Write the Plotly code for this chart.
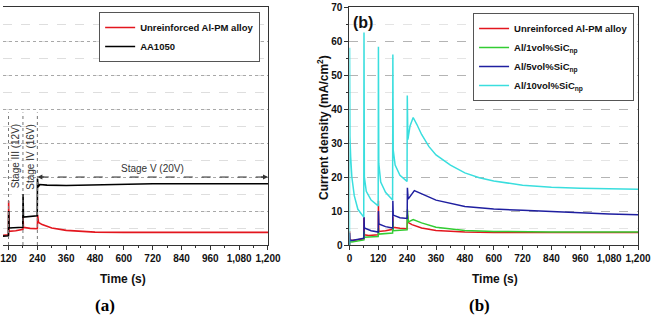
import plotly.graph_objects as go

# ---------------- data ----------------
# Unreinforced Al-PM alloy (both panels)
red_t = [0, 0.5, 2, 10, 30, 59.5, 60, 60.5, 62, 80, 119.5, 120, 120.5, 122, 150, 179.5, 180, 180.5, 182, 210,
         239.5, 240, 241, 245, 260, 300, 360, 480, 600, 840, 1200]
red_v = [0, 4.0, 1.5, 1.3, 1.5, 1.8, 1.8, 8.0, 3.0, 2.8, 3.0, 3.0, 13.0, 4.0, 4.2, 4.6, 4.6, 8.4, 5.2, 4.9,
         4.8, 4.8, 8.9, 6.6, 6.0, 5.0, 4.3, 3.8, 3.7, 3.7, 3.7]

# AA1050 (panel a)
blk_t = [0, 0.5, 2, 59.5, 60, 60.5, 62, 119.5, 120, 120.5, 122, 179.5, 180, 180.5, 182, 239.5, 240, 240.5,
         243, 250, 280, 360, 480, 600, 720, 840, 960, 1080, 1200]
blk_v = [0, 5.0, 1.2, 1.5, 1.5, 6.0, 2.5, 2.7, 2.7, 10.0, 5.0, 5.2, 5.2, 15.0, 8.2, 8.6, 8.6, 19.5,
         17.0, 17.8, 17.6, 17.5, 17.7, 17.9, 18.0, 18.0, 18.0, 18.0, 18.0]

# Al/1vol%SiCnp
grn_t = [0, 1, 10, 59.5, 60, 60.5, 62, 119.5, 120, 120.5, 122, 179.5, 180, 180.5, 182, 239.5, 240, 241,
         245, 265, 300, 360, 480, 600, 840, 1200]
grn_v = [0, 1.0, 0.9, 1.5, 1.5, 4.0, 2.3, 2.5, 2.5, 5.0, 3.2, 3.5, 3.5, 7.0, 4.2, 4.5, 4.5, 10.5,
         6.8, 7.5, 6.5, 5.2, 4.3, 4.0, 3.8, 3.8]

# Al/5vol%SiCnp
blu_t = [0, 0.5, 2, 10, 59.5, 60, 60.5, 62, 90, 119.5, 120, 120.5, 122, 150, 179.5, 180, 180.5, 182, 210,
         239.5, 240, 241, 244, 270, 300, 360, 480, 600, 720, 840, 960, 1080, 1200]
blu_v = [0, 3.5, 1.5, 1.3, 2.0, 2.0, 8.2, 5.0, 4.2, 3.8, 3.8, 10.0, 6.2, 5.4, 5.0, 5.0, 13.0, 8.8, 8.0,
         7.8, 7.8, 16.8, 13.5, 16.0, 15.0, 13.2, 11.3, 10.6, 10.2, 9.8, 9.4, 9.1, 8.9]

# Al/10vol%SiCnp
cyn_t = [0, 0.5, 2, 5, 10, 20, 35, 59.5, 60, 60.5, 62, 70, 90, 119.5, 120, 120.5, 122, 130, 150, 179.5,
         180, 180.5, 182, 190, 210, 239.5, 240, 240.5, 243, 252, 265, 280, 300, 330, 360, 420, 480, 540,
         600, 720, 840, 960, 1080, 1200]
cyn_v = [0, 58.0, 32.0, 26.0, 20.0, 14.5, 10.5, 8.2, 8.2, 62.5, 20.0, 15.8, 13.2, 11.5, 11.5, 58.3, 24.0,
         18.5, 15.5, 13.2, 13.2, 56.0, 28.0, 23.5, 20.5, 18.7, 18.7, 44.0, 31.0, 35.0, 37.5, 35.5, 32.5,
         29.0, 26.5, 23.5, 21.2, 19.8, 18.8, 17.6, 17.0, 16.7, 16.5, 16.4]

x_ticks = [0, 120, 240, 360, 480, 600, 720, 840, 960, 1080, 1200]
y_ticks = [0, 10, 20, 30, 40, 50, 60, 70]

stage_lines = [120, 180, 240]
stage_labels = ["Stage II (8V)", "Stage III (12V)", "Stage IV (16V)"]
stage_label_t = [90, 150, 210]

RED, BLACK, GREEN, BLUE, CYAN = "#e3161e", "#000000", "#33cc33", "#1f1fa0", "#3adede"
FONT = "Liberation Sans"

fig = go.Figure()

# panel (a)
fig.add_trace(go.Scatter(x=red_t, y=red_v, mode="lines", line=dict(color=RED, width=1.6),
                         name="Unreinforced Al-PM alloy", xaxis="x", yaxis="y", legend="legend"))
fig.add_trace(go.Scatter(x=blk_t, y=blk_v, mode="lines", line=dict(color=BLACK, width=1.6),
                         name="AA1050", xaxis="x", yaxis="y", legend="legend"))
# panel (b)
fig.add_trace(go.Scatter(x=red_t, y=red_v, mode="lines", line=dict(color=RED, width=1.5),
                         name="Unreinforced Al-PM alloy", xaxis="x2", yaxis="y2", legend="legend2"))
fig.add_trace(go.Scatter(x=grn_t, y=grn_v, mode="lines", line=dict(color=GREEN, width=1.5),
                         name="Al/1vol%SiC<sub>np</sub>", xaxis="x2", yaxis="y2", legend="legend2"))
fig.add_trace(go.Scatter(x=blu_t, y=blu_v, mode="lines", line=dict(color=BLUE, width=1.5),
                         name="Al/5vol%SiC<sub>np</sub>", xaxis="x2", yaxis="y2", legend="legend2"))
fig.add_trace(go.Scatter(x=cyn_t, y=cyn_v, mode="lines", line=dict(color=CYAN, width=1.5),
                         name="Al/10vol%SiC<sub>np</sub>", xaxis="x2", yaxis="y2", legend="legend2"))

W, H = 651, 317
ML, MR, MT, MB = 0, 4, 7, 72
PW, PH = W - ML - MR, H - MT - MB

def px(xp):
    return (xp - ML) / PW

def py(yp):
    return (H - MB - yp) / PH

tickfont = dict(family=FONT, size=10, color="#111", weight="bold")

common_x = dict(tickvals=x_ticks, tickformat=",d", ticks="outside", ticklen=4, tickwidth=1,
                tickcolor="#333", minor=dict(dtick=60, ticks="outside", ticklen=2, tickcolor="#333"),
                showline=True, linecolor="#333", linewidth=1, mirror=True, showgrid=False,
                zeroline=False, tickfont=tickfont)

legfont = dict(family=FONT, size=9.5, color="#111", weight="bold")

fig.update_layout(
    width=W, height=H, margin=dict(l=ML, r=MR, t=MT, b=MB),
    paper_bgcolor="white", plot_bgcolor="white", showlegend=True,
    xaxis=dict(domain=[0, px(270)], range=[97, 1200], anchor="y", **common_x),
    yaxis=dict(domain=[0, 1], range=[0, 70], anchor="x", side="right", showticklabels=False,
               ticks="", showline=True, linecolor="#333", linewidth=1, mirror=False,
               tickvals=y_ticks, zeroline=False,
               showgrid=True, gridcolor="#a8a8a8", griddash="dot", gridwidth=1,
               minor=dict(dtick=5, showgrid=True, gridcolor="#dedede", griddash="dash")),
    xaxis2=dict(domain=[px(353), 1], range=[0, 1200], anchor="y2", **common_x),
    yaxis2=dict(domain=[0, 1], range=[0, 70], anchor="x2", tickvals=y_ticks, ticks="outside",
                ticklen=4, tickcolor="#333",
                showline=True, linecolor="#333", linewidth=1, mirror=True, zeroline=False,
                tickfont=tickfont,
                showgrid=True, gridcolor="#b4b4b4", griddash="dash", gridwidth=1,
                minor=dict(dtick=5, ticks="outside", ticklen=2, tickcolor="#333", showgrid=True,
                           gridcolor="#e4e4e4", griddash="dash")),
    legend=dict(x=px(262), y=py(12), xanchor="right", yanchor="top", bgcolor="white",
                bordercolor="#555", borderwidth=1, itemwidth=30, font=legfont),
    legend2=dict(x=px(643), y=py(13), xanchor="right", yanchor="top", bgcolor="white",
                 bordercolor="#555", borderwidth=1, itemwidth=30, font=legfont),
)

# stage markers in panel (a)
for t in stage_lines:
    fig.add_shape(type="line", xref="x", yref="y", x0=t, x1=t, y0=0, y1=39,
                  line=dict(color="#777", width=1, dash="dot"))
for lab, t in zip(stage_labels, stage_label_t):
    fig.add_annotation(x=t, y=26, xref="x", yref="y", text=lab, showarrow=False, textangle=-90,
                       xanchor="center", yanchor="middle",
                       font=dict(family=FONT, size=10, color="#333"))

fig.add_shape(type="line", xref="x", yref="y", x0=250, x1=1190, y0=20, y1=20,
              line=dict(color="#333", width=1, dash="dash"))
fig.add_annotation(x=240, y=20, xref="x", yref="y", ax=275, ay=20, axref="x", ayref="y", text="",
                   showarrow=True, arrowhead=2, arrowsize=1, arrowwidth=1, arrowcolor="#333")
fig.add_annotation(x=1200, y=20, xref="x", yref="y", ax=1165, ay=20, axref="x", ayref="y", text="",
                   showarrow=True, arrowhead=2, arrowsize=1, arrowwidth=1, arrowcolor="#333")
fig.add_annotation(x=720, y=22.6, xref="x", yref="y", text="Stage V (20V)", showarrow=False,
                   xanchor="center", yanchor="middle",
                   font=dict(family=FONT, size=10, color="#333"))

# titles / labels
def label(xp, yp, text, font, angle=0):
    fig.add_annotation(x=px(xp), y=py(yp), xref="paper", yref="paper", text=text,
                       showarrow=False, xanchor="center", yanchor="middle", textangle=angle,
                       font=font)

bold12 = dict(family=FONT, size=12, color="#111", weight="bold")
label(122, 279, "Time (s)", bold12)
label(501, 279, "Time (s)", bold12)
label(326, 127, "Current density (mA/cm<sup>2</sup>)", bold12, angle=-90)
label(367, 22, "(b)", dict(family=FONT, size=16, color="#111", weight="bold"))
label(104, 305, "(a)", dict(family="Liberation Serif", size=17, color="#000", weight="bold"))
label(486, 305, "(b)", dict(family="Liberation Serif", size=17, color="#000", weight="bold"))

fig.write_html("out.html")
